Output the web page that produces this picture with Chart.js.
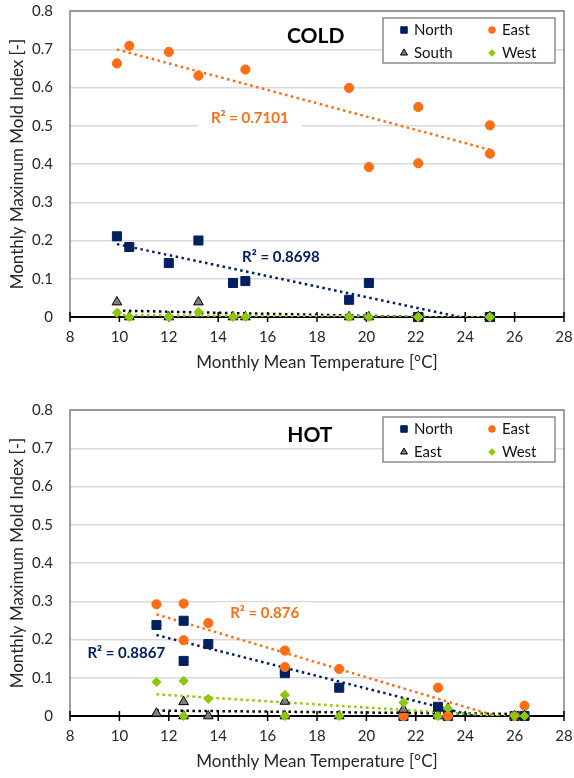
<!DOCTYPE html>
<html lang="en">

<head>
    <meta charset="UTF-8" />
    <title>Monthly Maximum Mold Index - Cold and Hot</title>
    <script src="https://cdn.jsdelivr.net/npm/chart.js"></script>
    <style>
        body {
            margin: 0;
            background: #fff;
        }

        .wrap {
            position: absolute;
            left: 0;
            width: 574px;
            height: 389px;
        }
    </style>
</head>

<body>

    <div class="wrap" style="top:0"><canvas id="coldChart"></canvas></div>
    <div class="wrap" style="top:389px"><canvas id="hotChart"></canvas></div>

    <script>
        // x tick labels (°C) and y tick labels
        const tempTicks = [8, 10, 12, 14, 16, 18, 20, 22, 24, 26, 28];
        const moldTicks = [0, 0.1, 0.2, 0.3, 0.4, 0.5, 0.6, 0.7, 0.8];

        // COLD climate, one value per month
        const coldTemp = [9.9, 10.4, 12.0, 13.2, 14.6, 15.1, 19.3, 20.1, 22.1, 22.1, 25.0, 25.0];
        const coldNorth = [0.211, 0.183, 0.141, 0.200, 0.089, 0.094, 0.045, 0.089, 0, 0, 0, 0];
        const coldEast = [0.663, 0.709, 0.693, 0.631, null, 0.647, 0.599, 0.392, 0.549, 0.402, 0.501, 0.427];
        const coldSouth = [0.039, 0, 0, 0.039, 0, 0, 0, 0, 0, 0, 0, 0];
        const coldWest = [0.011, 0, 0, 0.013, 0, 0, 0, 0, 0, 0, 0, 0];
        const coldLabels = ['North', 'East', 'South', 'West'];
        const coldR2 = ['R² = 0.7101', 'R² = 0.8698'];

        // HOT climate
        const hotTemp = [11.5, 12.6, 12.6, 13.6, 16.7, 16.7, 18.9, 21.5, 22.9, 23.3, 26.0, 26.4];
        const hotNorth = [0.238, 0.249, 0.144, 0.188, 0.118, 0.112, 0.074, 0, 0.024, 0, 0, 0];
        const hotEast = [0.292, 0.294, 0.198, 0.243, 0.171, 0.128, 0.123, 0, 0.074, 0, 0, 0.027];
        const hotSouth = [0.007, 0.037, 0, 0, 0.038, 0, 0, 0.017, 0, 0.020, 0, 0];
        const hotWest = [0.089, 0.092, 0, 0.045, 0.055, 0, 0, 0.035, 0, 0.020, 0, 0];
        const hotLabels = ['North', 'East', 'East', 'West'];
        const hotR2 = ['R² = 0.876', 'R² = 0.8867'];

        const NAVY = '#002060';
        const ORANGE = '#FF6D14';
        const GRAY = '#7F7F7F';
        const GREEN = '#8DC90A';
        const FONT = 'Lato, "Open Sans", sans-serif';

        const markers = [
            { style: 'rect', r: 6.4, fill: NAVY, stroke: NAVY, line: NAVY },
            { style: 'circle', r: 4.6, fill: ORANGE, stroke: ORANGE, line: ORANGE },
            { style: 'triangle', r: 5.6, fill: GRAY, stroke: '#000', line: '#000' },
            { style: 'rectRot', r: 4.6, fill: GREEN, stroke: GREEN, line: GREEN }
        ];

        function toPoints(xs, ys) {
            return xs.map((x, i) => ({ x, y: ys[i] })).filter(p => p.y !== null);
        }

        // least squares line, drawn over the range of the data like Excel does
        function trend(xs, ys) {
            const pts = toPoints(xs, ys);
            const n = pts.length;
            const mx = pts.reduce((s, p) => s + p.x, 0) / n;
            const my = pts.reduce((s, p) => s + p.y, 0) / n;
            let sxy = 0, sxx = 0;
            pts.forEach(p => {
                sxy += (p.x - mx) * (p.y - my);
                sxx += (p.x - mx) * (p.x - mx);
            });
            const k = sxy / sxx;
            const lo = Math.min(...pts.map(p => p.x));
            const hi = Math.max(...pts.map(p => p.x));
            return [{ x: lo, y: my + k * (lo - mx) }, { x: hi, y: my + k * (hi - mx) }];
        }

        function drawMarker(ctx, style, x, y, r, fill, stroke) {
            ctx.beginPath();
            if (style === 'rect') {
                const s = r * Math.SQRT1_2;
                ctx.rect(x - s, y - s, 2 * s, 2 * s);
            } else if (style === 'circle') {
                ctx.arc(x, y, r, 0, Math.PI * 2);
            } else if (style === 'triangle') {
                ctx.moveTo(x, y - r);
                ctx.lineTo(x + r * 0.866, y + r * 0.5);
                ctx.lineTo(x - r * 0.866, y + r * 0.5);
                ctx.closePath();
            } else {
                ctx.moveTo(x, y - r);
                ctx.lineTo(x + r, y);
                ctx.lineTo(x, y + r);
                ctx.lineTo(x - r, y);
                ctx.closePath();
            }
            ctx.fillStyle = fill;
            ctx.fill();
            ctx.strokeStyle = stroke;
            ctx.lineWidth = 1;
            ctx.stroke();
        }

        // plot frame, black x axis and ticks crossing it
        const framePlugin = {
            id: 'frame',
            beforeDatasetsDraw(chart) {
                const { ctx, chartArea: a, scales: { x } } = chart;
                ctx.save();
                ctx.strokeStyle = '#808080';
                ctx.lineWidth = 1.5;
                ctx.strokeRect(a.left, a.top, a.right - a.left, a.bottom - a.top);
                ctx.strokeStyle = '#000';
                ctx.lineWidth = 2;
                ctx.beginPath();
                ctx.moveTo(a.left, a.bottom);
                ctx.lineTo(a.right, a.bottom);
                ctx.stroke();
                ctx.lineWidth = 1.5;
                ctx.beginPath();
                tempTicks.forEach(t => {
                    const px = x.getPixelForValue(t);
                    ctx.moveTo(px, a.bottom - 5);
                    ctx.lineTo(px, a.bottom + 5);
                });
                ctx.stroke();

                // titles and R² notes
                const notes = chart.options.plugins.notes.items;
                notes.forEach(n => {
                    const px = x.getPixelForValue(n.x);
                    const py = chart.scales.y.getPixelForValue(n.y);
                    ctx.font = 'bold ' + n.size + 'px ' + FONT;
                    ctx.textAlign = 'center';
                    ctx.textBaseline = 'middle';
                    if (n.box) {
                        const w = ctx.measureText(n.text).width + 26;
                        ctx.fillStyle = '#fff';
                        ctx.fillRect(px - w / 2, py - 11, w, 22);
                    }
                    ctx.fillStyle = n.color;
                    ctx.fillText(n.text, px, py);
                });
                ctx.restore();
            },
            afterDraw(chart) {
                const { ctx, chartArea: a } = chart;
                const labels = chart.options.plugins.notes.legend;
                const left = a.right - 181, top = a.top + 7;
                ctx.save();
                ctx.fillStyle = '#fff';
                ctx.fillRect(left, top, 172, 45);
                ctx.strokeStyle = '#8c8c8c';
                ctx.lineWidth = 1.5;
                ctx.strokeRect(left, top, 172, 45);
                ctx.font = '15px ' + FONT;
                ctx.textBaseline = 'middle';
                ctx.textAlign = 'left';
                labels.forEach((lab, i) => {
                    const m = markers[i];
                    const cx = left + 21 + (i % 2) * 88;
                    const cy = top + 12 + Math.floor(i / 2) * 23;
                    drawMarker(ctx, m.style, cx, cy, m.r * 0.72, m.fill, m.stroke);
                    ctx.fillStyle = '#111';
                    ctx.fillText(lab, cx + 10, cy);
                });
                ctx.restore();
            }
        };

        function makeChart(id, temp, series, legend, notes, pad) {
            const datasets = [];
            // later series sit on top, so add them first
            for (let i = series.length - 1; i >= 0; i--) {
                const m = markers[i];
                datasets.push({
                    label: legend[i],
                    data: toPoints(temp, series[i]),
                    pointStyle: m.style,
                    pointRadius: m.r,
                    pointHoverRadius: m.r,
                    backgroundColor: m.fill,
                    borderColor: m.stroke,
                    borderWidth: 1,
                    showLine: false,
                    clip: false
                });
            }
            for (let i = series.length - 1; i >= 0; i--) {
                datasets.push({
                    label: legend[i] + ' trend',
                    data: trend(temp, series[i]),
                    showLine: true,
                    pointRadius: 0,
                    borderColor: markers[i].line,
                    borderWidth: 2.5,
                    borderDash: [2.5, 3.5],
                    clip: 0
                });
            }

            return new Chart(document.getElementById(id), {
                type: 'scatter',
                data: { datasets },
                options: {
                    responsive: true,
                    maintainAspectRatio: false,
                    animation: false,
                    layout: { padding: pad },
                    plugins: {
                        legend: { display: false },
                        tooltip: { enabled: false },
                        notes: { items: notes, legend }
                    },
                    scales: {
                        x: {
                            type: 'linear',
                            min: 8,
                            max: 28,
                            afterBuildTicks: s => { s.ticks = tempTicks.map(v => ({ value: v })); },
                            afterFit: s => {
                                s.height = 56;
                                s.paddingLeft = 0;
                                s.paddingRight = 0;
                            },
                            grid: { display: false, drawTicks: false },
                            border: { display: false },
                            ticks: {
                                padding: 11,
                                color: '#262626',
                                font: { family: FONT, size: 15 }
                            },
                            title: {
                                display: true,
                                text: 'Monthly Mean Temperature [°C]',
                                color: '#262626',
                                padding: { top: 0, bottom: 0 },
                                font: { family: FONT, size: 17 }
                            }
                        },
                        y: {
                            min: 0,
                            max: 0.8,
                            afterBuildTicks: s => { s.ticks = moldTicks.map(v => ({ value: v })); },
                            afterFit: s => {
                                s.width = 70;
                                s.paddingTop = 0;
                                s.paddingBottom = 0;
                            },
                            grid: { color: '#d9d9d9', lineWidth: 1.5, drawTicks: false },
                            border: { display: false },
                            ticks: {
                                padding: 17,
                                color: '#262626',
                                font: { family: FONT, size: 15 },
                                callback: v => v === 0 ? '0' : v.toFixed(1)
                            },
                            title: {
                                display: true,
                                text: 'Monthly Maximum Mold Index [-]',
                                color: '#262626',
                                padding: { top: 7, bottom: 0 },
                                font: { family: FONT, size: 17 }
                            }
                        }
                    }
                },
                plugins: [framePlugin]
            });
        }

        makeChart('coldChart', coldTemp, [coldNorth, coldEast, coldSouth, coldWest], coldLabels, [
            { text: 'COLD', x: 17.95, y: 0.735, size: 21, color: '#000' },
            { text: coldR2[0], x: 15.28, y: 0.519, size: 15, color: ORANGE, box: true },
            { text: coldR2[1], x: 16.54, y: 0.157, size: 15, color: NAVY }
        ], { top: 11, right: 10, bottom: 16, left: 0 });

        makeChart('hotChart', hotTemp, [hotNorth, hotEast, hotSouth, hotWest], hotLabels, [
            { text: 'HOT', x: 17.71, y: 0.734, size: 21, color: '#000' },
            { text: hotR2[0], x: 15.88, y: 0.268, size: 15, color: ORANGE, box: true },
            { text: hotR2[1], x: 10.28, y: 0.163, size: 15, color: NAVY }
        ], { top: 21, right: 10, bottom: 6, left: 0 });
    </script>

</body>

</html>
